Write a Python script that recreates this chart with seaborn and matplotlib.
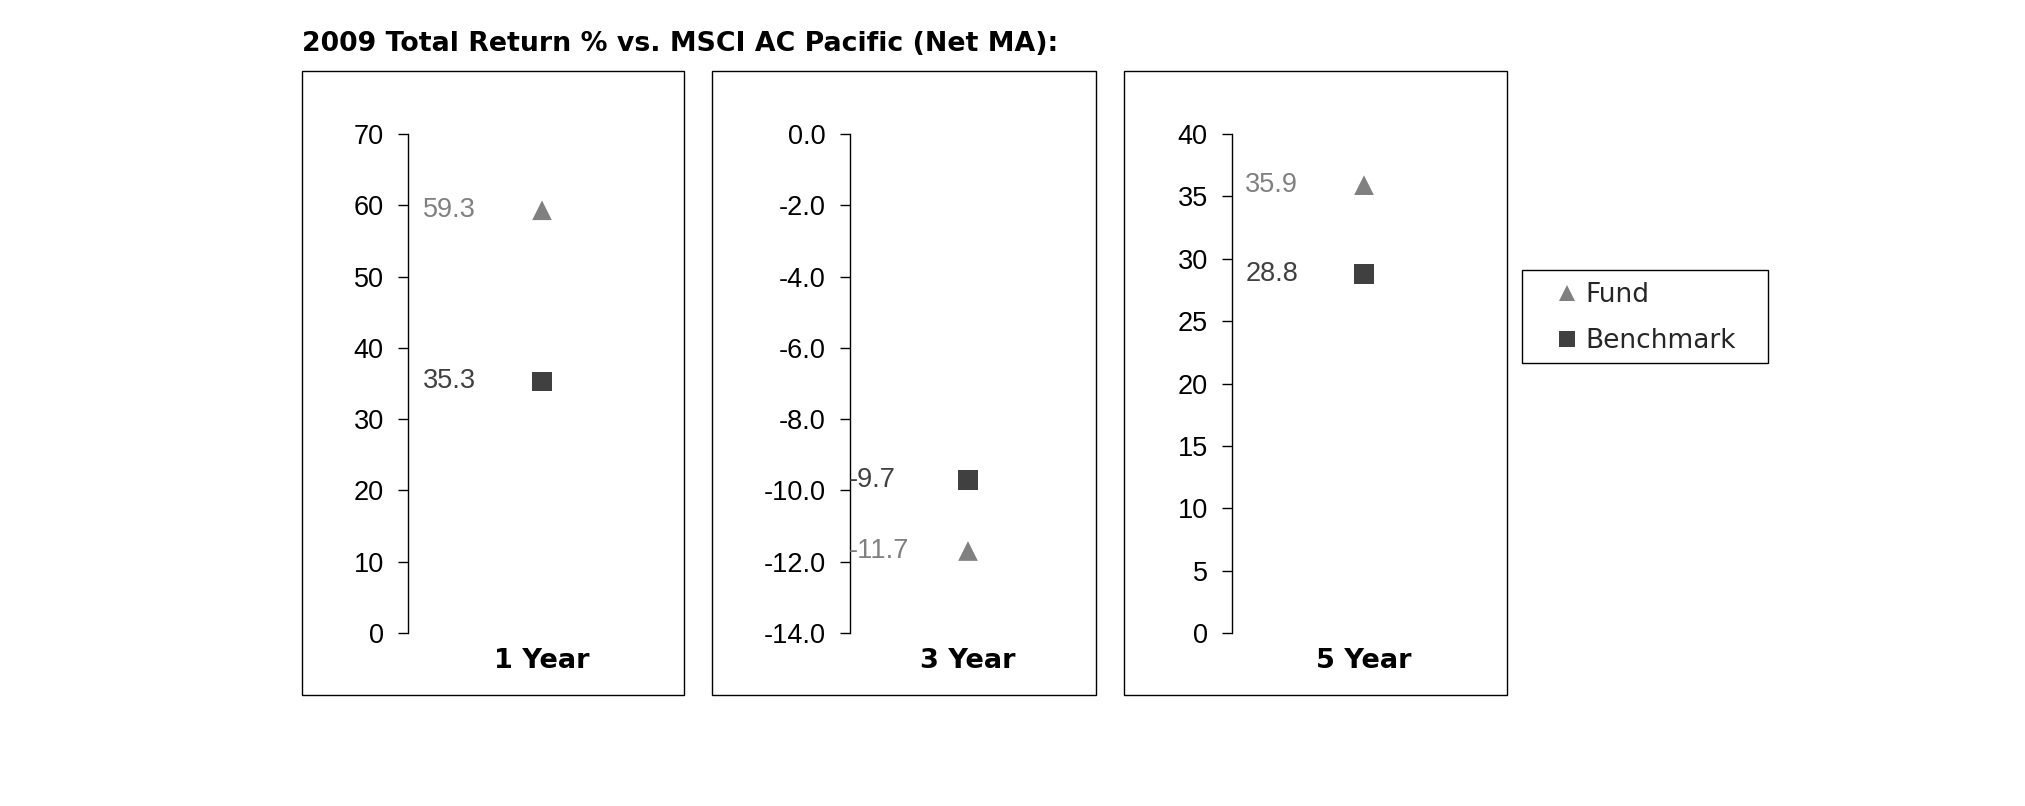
import matplotlib
matplotlib.use("Agg")
import matplotlib.pyplot as plt
from matplotlib.patches import Rectangle
from matplotlib.lines import Line2D
import numpy as np
import pandas as pd
import seaborn as sns

# ---------------- data ----------------
title = "2009 Total Return % vs. MSCI AC Pacific (Net MA):"
periods = ["1 Year", "3 Year", "5 Year"]
series_names = ["Fund", "Benchmark"]
fund_values = [59.3, -11.7, 35.9]
benchmark_values = [35.3, -9.7, 28.8]
y_mins = [0, -14, 0]
y_maxs = [70, 0, 40]
y_steps = [10, 2, 5]
y_formats = ["{:.0f}", "{:.1f}", "{:.0f}"]

# ---------------- style ----------------
sns.set_theme(style="white")
plt.rcParams["font.family"] = ["DejaVu Sans"]
plt.rcParams["axes.unicode_minus"] = False

ARIAL = ["Liberation Sans"]
FUND_C = "#808080"
BENCH_C = "#404040"
palette = {"Fund": FUND_C, "Benchmark": BENCH_C}
markers = {"Fund": "^", "Benchmark": "s"}

W, H = 2025, 806
fig = plt.figure(figsize=(W / 100, H / 100), dpi=100)

def fx(px):
    return px / W

def fy(py):
    return 1 - py / H

# plot-area pixel extents (left axis x, right edge)
plot_lr = [(408, 676), (850, 1086), (1232, 1496)]
boxes = [(302, 684), (712, 1096), (1124, 1507)]
top_px, bot_px = 134, 633
box_top, box_bot = 71, 695

for i, period in enumerate(periods):
    x0, x1 = plot_lr[i]
    ax = fig.add_axes([fx(x0), fy(bot_px), fx(x1 - x0), (bot_px - top_px) / H])
    df = pd.DataFrame({
        "x": [0, 0],
        "value": [fund_values[i], benchmark_values[i]],
        "series": series_names,
    })
    sns.scatterplot(data=df, x="x", y="value", hue="series", style="series",
                    palette=palette, markers=markers, s=200, linewidth=0,
                    legend=False, ax=ax, clip_on=False, zorder=3)
    ax.set_xlim(-1, 1)
    ax.set_ylim(y_mins[i], y_maxs[i])
    ticks = np.arange(y_mins[i], y_maxs[i] + y_steps[i] / 2, y_steps[i])
    ax.set_yticks(ticks)
    ax.set_yticklabels([y_formats[i].format(t) for t in ticks],
                       fontfamily=ARIAL, fontsize=19.5, color="black")
    ax.set_xticks([0])
    ax.set_xticklabels([period], fontweight="bold", fontsize=19.5, color="black")
    ax.tick_params(axis="y", direction="out", length=7, width=1, color="black",
                   pad=10.5, left=True)
    ax.tick_params(axis="x", length=0, pad=10.5)
    for s in ["top", "right", "bottom"]:
        ax.spines[s].set_visible(False)
    ax.spines["left"].set_color("black")
    ax.spines["left"].set_linewidth(1.0)
    ax.set_xlabel("")
    ax.set_ylabel("")
    ax.patch.set_alpha(0)
    for val, col in [(fund_values[i], FUND_C), (benchmark_values[i], BENCH_C)]:
        ax.annotate(f"{val:.1f}", xy=(0, val), xytext=(-85.5, 0),
                    textcoords="offset points", ha="left", va="center",
                    fontfamily=ARIAL, fontsize=19.5, color=col,
                    annotation_clip=False)
    bl, br = boxes[i]
    fig.add_artist(Rectangle((fx(bl), fy(box_bot)), fx(br - bl),
                             (box_bot - box_top) / H,
                             transform=fig.transFigure, fill=False,
                             edgecolor="black", linewidth=1.0))

fig.text(fx(302), fy(51), title, fontweight="bold", fontsize=19.3,
         ha="left", va="baseline", color="black")

# legend: frame drawn separately, entries via figure legend
fig.add_artist(Rectangle((fx(1522), fy(363)), fx(1768 - 1522), (363 - 270) / H,
                         transform=fig.transFigure, fill=True,
                         facecolor="white", edgecolor="black", linewidth=1.0,
                         zorder=1))
handles = [
    Line2D([], [], linestyle="none", marker="^", markersize=12,
           markerfacecolor=FUND_C, markeredgewidth=0, label="Fund"),
    Line2D([], [], linestyle="none", marker="s", markersize=11,
           markerfacecolor=BENCH_C, markeredgewidth=0, label="Benchmark"),
]
leg = fig.legend(handles=handles, loc="center left",
                 bbox_to_anchor=(fx(1556), fy(318)), borderaxespad=0,
                 borderpad=0, fontsize=19, frameon=False,
                 handlelength=0.8, handletextpad=0.33, labelspacing=0.75)
leg.set_zorder(2)

fig.savefig("out.png", dpi=100, facecolor="white")
